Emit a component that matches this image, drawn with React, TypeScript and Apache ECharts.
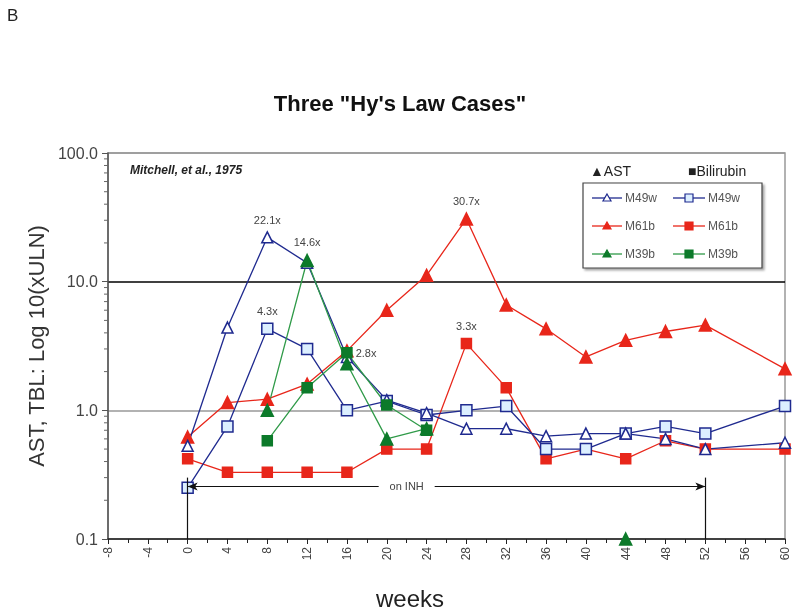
import React, { useEffect, useRef } from "react";
import * as echarts from "echarts";

const weeks = [0, 4, 8, 12, 16, 20, 24, 28, 32, 36, 40, 44, 48, 52, 60];
const m49wAst = [0.53, 4.4, 22.1, 14.0, 2.6, 1.2, 0.95, 0.72, 0.72, 0.63, 0.66, 0.66, 0.6, 0.5, 0.56];
const m49wTbl = [0.25, 0.75, 4.3, 3.0, 1.0, 1.18, 0.92, 1.0, 1.08, 0.5, 0.5, 0.66, 0.75, 0.66, 1.08];
const m61bAst = [0.62, 1.15, 1.22, 1.6, 2.9, 6.0, 11.2, 30.7, 6.6, 4.3, 2.6, 3.5, 4.1, 4.6, 2.1];
const m61bTbl = [0.42, 0.33, 0.33, 0.33, 0.33, 0.5, 0.5, 3.3, 1.5, 0.42, 0.5, 0.42, 0.58, 0.5, 0.5];
const m39bWeeks = [8, 12, 16, 20, 24, 28, 44];
const m39bAst: (number | null)[] = [1.0, 14.6, 2.3, 0.6, 0.72, null, 0.1];
const m39bTbl: (number | null)[] = [0.58, 1.5, 2.8, 1.1, 0.7, null, null];

// annotations: [series key, week, text, position]
const annotations: [string, number, string, string][] = [
  ["m49wAst", 8, "22.1x", "top"],
  ["m39bAst", 12, "14.6x", "top"],
  ["m61bAst", 28, "30.7x", "top"],
  ["m49wTbl", 8, "4.3x", "top"],
  ["m61bTbl", 28, "3.3x", "top"],
  ["m39bTbl", 16, "2.8x", "right"],
];

const yTicks = [0.1, 1, 10, 100];
const yMinorTicks = [0.2, 0.3, 0.4, 0.5, 0.6, 0.7, 0.8, 0.9, 2, 3, 4, 5, 6, 7, 8, 9, 20, 30, 40, 50, 60, 70, 80, 90];
const xMin = -8;
const xMax = 60;
const inhStart = 0;
const inhEnd = 52;

const BLUE = "#1f2a8f";
const BLUE_FILL = "#dcefff";
const RED = "#e8261a";
const GREEN_LINE = "#2f9a48";
const GREEN = "#0c7a2a";
const FONT = "Liberation Sans, Arial, sans-serif";

function build(key: string, xs: number[], ys: (number | null)[]) {
  return xs.map((w, i) => {
    const y = ys[i];
    if (y === null) return [w, "-"];
    const ann = annotations.find((a) => a[0] === key && a[1] === w);
    if (ann) {
      return {
        value: [w, y],
        label: {
          show: true,
          formatter: ann[2],
          position: ann[3],
          color: "#444",
          fontSize: 11,
          fontFamily: FONT,
          distance: ann[3] === "right" ? 3 : 6,
        },
      };
    }
    return [w, y];
  });
}

export default function App() {
  const ref = useRef<HTMLDivElement>(null);
  useEffect(() => {
    const chart = echarts.init(ref.current!, null, { renderer: "svg" });
    const lineSeries = (
      key: string,
      name: string,
      xs: number[],
      ys: (number | null)[],
      symbol: string,
      size: number,
      lineColor: string,
      fill: string,
      stroke: string
    ) => ({
      type: "line",
      name,
      data: build(key, xs, ys),
      symbol,
      symbolSize: size,
      showAllSymbol: true,
      clip: false,
      connectNulls: false,
      lineStyle: { color: lineColor, width: 1.3 },
      itemStyle: { color: fill, borderColor: stroke, borderWidth: 1.5 },
      emphasis: { disabled: true },
      z: 3,
    });

    const legendRows: [string, string, string, string, string][] = [
      ["M49w", BLUE, "#fff", BLUE, BLUE_FILL],
      ["M61b", RED, RED, RED, RED],
      ["M39b", GREEN_LINE, GREEN, GREEN, GREEN],
    ];
    const legendEls: any[] = [];
    legendRows.forEach((r, i) => {
      const y = 198 + i * 28;
      legendEls.push(
        { type: "line", shape: { x1: 592, y1: y, x2: 622, y2: y }, style: { stroke: r[1], lineWidth: 1.3 } },
        {
          type: "polygon",
          shape: { points: [[607, y - 4], [611, y + 3], [603, y + 3]] },
          style: { fill: r[2], stroke: r[3], lineWidth: 1.2 },
        },
        { type: "text", x: 625, y, style: { text: r[0], fill: "#555", font: `12px ${FONT}`, verticalAlign: "middle" } },
        { type: "line", shape: { x1: 673, y1: y, x2: 705, y2: y }, style: { stroke: r[1], lineWidth: 1.3 } },
        { type: "rect", shape: { x: 685, y: y - 4, width: 8, height: 8 }, style: { fill: r[4], stroke: r[3], lineWidth: 1.2 } },
        { type: "text", x: 708, y, style: { text: r[0], fill: "#555", font: `12px ${FONT}`, verticalAlign: "middle" } }
      );
    });

    chart.setOption({
      animation: false,
      textStyle: { fontFamily: FONT },
      grid: { left: 108, right: 15, top: 153, bottom: 77, show: true, borderColor: "#999", borderWidth: 1.5 },
      xAxis: {
        type: "value",
        min: xMin,
        max: xMax,
        interval: 4,
        axisLine: { show: true, onZero: false, lineStyle: { color: "#222", width: 1.5 } },
        axisTick: { show: true, length: 5, lineStyle: { color: "#222" } },
        minorTick: { show: true, splitNumber: 2, length: 4, lineStyle: { color: "#222" } },
        splitLine: { show: false },
        axisLabel: { rotate: 90, color: "#444", fontSize: 12, margin: 8 },
      },
      yAxis: {
        type: "log",
        logBase: 10,
        min: 0.1,
        max: 100,
        name: "AST, TBL: Log 10(xULN)",
        nameLocation: "middle",
        nameGap: 50,
        nameTextStyle: { fontSize: 22, color: "#333", fontFamily: FONT },
        axisLine: { show: true, onZero: false, lineStyle: { color: "#555", width: 1.5 } },
        axisTick: { show: true, length: 6, lineStyle: { color: "#555" } },
        minorTick: { show: false },
        splitLine: { show: true, lineStyle: { color: ["#999", "#999", "#000", "#999"], width: 1.5 } },
        axisLabel: {
          color: "#444",
          fontSize: 16,
          margin: 10,
          formatter: (v: number) => {
            const t = yTicks.find((k) => Math.abs(k - v) / k < 1e-6);
            return t !== undefined ? t.toFixed(1) : "";
          },
        },
      },
      graphic: [
        { type: "text", left: 7, top: 7, style: { text: "B", font: `17px ${FONT}`, fill: "#222" } },
        {
          type: "text",
          left: "center",
          top: 92,
          style: { text: 'Three "Hy\'s Law Cases"', font: `bold 22px ${FONT}`, fill: "#111" },
        },
        { type: "text", x: 130, y: 164, style: { text: "Mitchell, et al., 1975", font: `italic bold 12px ${FONT}`, fill: "#222" } },
        { type: "text", x: 410, y: 598, style: { text: "weeks", font: `24px ${FONT}`, fill: "#222", align: "center", verticalAlign: "middle" } },
        { type: "text", x: 590, y: 164, style: { text: "▲AST", font: `14px ${FONT}`, fill: "#222" } },
        { type: "text", x: 688, y: 164, style: { text: "■Bilirubin", font: `14px ${FONT}`, fill: "#222" } },
        {
          type: "rect",
          shape: { x: 583, y: 183, width: 179, height: 85 },
          style: { fill: "#fff", stroke: "#444", lineWidth: 1.2, shadowColor: "rgba(0,0,0,0.35)", shadowOffsetX: 2, shadowOffsetY: 2, shadowBlur: 2 },
        },
        ...legendEls,
      ],
      series: [
        {
          type: "custom",
          name: "yMinorTicks",
          silent: true,
          clip: false,
          data: yMinorTicks.map((v) => [xMin, v]),
          encode: { x: 0, y: 1 },
          renderItem: (params: any, api: any) => {
            const p = api.coord([api.value(0), api.value(1)]);
            return {
              type: "line",
              shape: { x1: p[0] - 4, y1: p[1], x2: p[0], y2: p[1] },
              style: { stroke: "#666", lineWidth: 1 },
            };
          },
          z: 1,
        },
        {
          type: "line",
          name: "inh",
          data: [],
          silent: true,
          markLine: {
            silent: true,
            animation: false,
            label: { show: false },
            lineStyle: { color: "#111", width: 1.2, type: "solid" },
            data: [
              [{ coord: [inhStart, 0.1], symbol: "none" }, { coord: [inhStart, 0.3], symbol: "none" }],
              [{ coord: [inhEnd, 0.1], symbol: "none" }, { coord: [inhEnd, 0.3], symbol: "none" }],
              [
                { coord: [inhStart, 0.256], symbol: "arrow", symbolSize: [6, 10] },
                { coord: [inhEnd, 0.256], symbol: "arrow", symbolSize: [6, 10] },
              ],
            ],
          },
          markPoint: {
            silent: true,
            symbol: "rect",
            symbolSize: [56, 12],
            itemStyle: { color: "#fff" },
            label: { show: true, formatter: "on INH", color: "#444", fontSize: 11, position: "inside" },
            data: [{ coord: [22, 0.256] }],
          },
        },
        lineSeries("m61bTbl", "M61b TBL", weeks, m61bTbl, "rect", 10, RED, RED, RED),
        lineSeries("m61bAst", "M61b AST", weeks, m61bAst, "triangle", 12, RED, RED, RED),
        lineSeries("m49wTbl", "M49w TBL", weeks, m49wTbl, "rect", 11, BLUE, BLUE_FILL, BLUE),
        lineSeries("m49wAst", "M49w AST", weeks, m49wAst, "triangle", 11, BLUE, "#fff", BLUE),
        lineSeries("m39bTbl", "M39b TBL", m39bWeeks, m39bTbl, "rect", 10, GREEN_LINE, GREEN, GREEN),
        lineSeries("m39bAst", "M39b AST", m39bWeeks, m39bAst, "triangle", 12, GREEN_LINE, GREEN, GREEN),
      ],
    });
    return () => chart.dispose();
  }, []);
  return <div ref={ref} style={{ position: "fixed", left: 0, top: 0, width: 800, height: 616 }} />;
}
